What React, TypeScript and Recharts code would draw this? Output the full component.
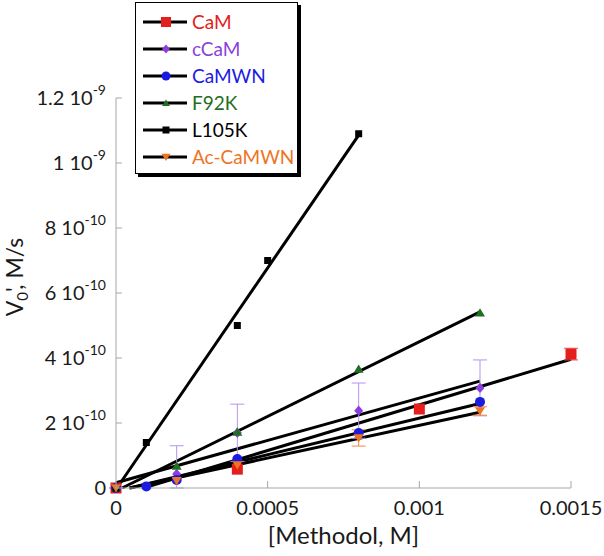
import React from 'react';
import { ComposedChart, Line, Scatter, ErrorBar, XAxis, YAxis } from 'recharts';

// axis ticks
const xTicks = [0, 0.0005, 0.001, 0.0015];
const xTickLabels = ['0', '0.0005', '0.001', '0.0015'];
const yTicks = [0, 2e-10, 4e-10, 6e-10, 8e-10, 1e-9, 1.2e-9];
const yTickBases = ['0', '2 10', '4 10', '6 10', '8 10', '1 10', '1.2 10'];
const yTickExps = ['', '-10', '-10', '-10', '-10', '-9', '-9'];

// measured points
const camX = [0, 0.0004, 0.001, 0.0015];
const camY = [0, 5.8e-11, 2.43e-10, 4.12e-10];
const camErr = [0, 0, 0, 1.8e-11];

const ccamX = [0, 0.0002, 0.0004, 0.0008, 0.0012];
const ccamY = [0, 4.3e-11, 1.7e-10, 2.38e-10, 3.08e-10];
const ccamErrLo = [0, 4.3e-11, 8.8e-11, 8.5e-11, 8.6e-11];
const ccamErrHi = [0, 8.7e-11, 8.8e-11, 8.5e-11, 8.6e-11];

const camwnX = [0, 0.0001, 0.0002, 0.0004, 0.0008, 0.0012];
const camwnY = [0, 5e-12, 2.5e-11, 8.9e-11, 1.69e-10, 2.65e-10];

const f92kX = [0, 0.0002, 0.0004, 0.0008, 0.0012];
const f92kY = [0, 6.8e-11, 1.72e-10, 3.66e-10, 5.39e-10];

const l105kX = [0, 0.0001, 0.0004, 0.0005, 0.0008];
const l105kY = [0, 1.4e-10, 5e-10, 7e-10, 1.09e-9];

const acX = [0, 0.0002, 0.0004, 0.0008, 0.0012];
const acY = [0, 2.2e-11, 7.1e-11, 1.54e-10, 2.37e-10];
const acErr = [0, 0, 0, 2.5e-11, 1.3e-11];

// linear fit lines, start / end
const camFitX = [0.00009, 0.0015];
const camFitY = [0, 3.96e-10];
const ccamFitX = [0, 0.0012];
const ccamFitY = [1.6e-11, 3.29e-10];
const camwnFitX = [0.000046, 0.0012];
const camwnFitY = [0, 2.6e-10];
const f92kFitX = [0.00002, 0.0012];
const f92kFitY = [0, 5.42e-10];
const l105kFitX = [0.000003, 0.0008];
const l105kFitY = [0, 1.086e-9];
const acFitX = [0.000044, 0.0012];
const acFitY = [0, 2.33e-10];

const AXIS = '#a6a6a6';
const TEXT = '#1a1a1a';

const pts = (xs: number[], ys: number[], errs?: (number | number[])[]) =>
  xs.map((x, i) => ({ x, y: ys[i], err: errs ? errs[i] : 0 }));

type MarkerKind = 'square' | 'diamond' | 'circle' | 'tri' | 'triDown';

function marker(kind: MarkerKind, cx: number, cy: number, s: number, color: string) {
  const h = s / 2;
  switch (kind) {
    case 'square':
      return <rect x={cx - h} y={cy - h} width={s} height={s} fill={color} />;
    case 'diamond':
      return (
        <polygon
          points={`${cx},${cy - h * 1.15} ${cx + h},${cy} ${cx},${cy + h * 1.15} ${cx - h},${cy}`}
          fill={color}
        />
      );
    case 'circle':
      return <circle cx={cx} cy={cy} r={h} fill={color} />;
    case 'tri':
      return (
        <polygon
          points={`${cx},${cy - h * 0.9} ${cx + h},${cy + h * 0.75} ${cx - h},${cy + h * 0.75}`}
          fill={color}
        />
      );
    default:
      return (
        <polygon
          points={`${cx - h},${cy - h * 0.75} ${cx + h},${cy - h * 0.75} ${cx},${cy + h * 0.9}`}
          fill={color}
        />
      );
  }
}

const series = [
  { name: 'CaM', color: '#e3201b', kind: 'square' as MarkerKind, size: 11, legendSize: 10,
    data: pts(camX, camY, camErr), fit: pts(camFitX, camFitY), errColor: '#e85050' },
  { name: 'cCaM', color: '#8a3fdc', kind: 'diamond' as MarkerKind, size: 9, legendSize: 8,
    data: pts(ccamX, ccamY, ccamX.map((_, i) => [ccamErrLo[i], ccamErrHi[i]])), fit: pts(ccamFitX, ccamFitY), errColor: '#b593ec' },
  { name: 'CaMWN', color: '#1c1ce0', kind: 'circle' as MarkerKind, size: 10, legendSize: 9,
    data: pts(camwnX, camwnY), fit: pts(camwnFitX, camwnFitY), errColor: '' },
  { name: 'F92K', color: '#1f6e22', kind: 'tri' as MarkerKind, size: 10, legendSize: 8,
    data: pts(f92kX, f92kY), fit: pts(f92kFitX, f92kFitY), errColor: '' },
  { name: 'L105K', color: '#000000', kind: 'square' as MarkerKind, size: 7, legendSize: 7,
    data: pts(l105kX, l105kY), fit: pts(l105kFitX, l105kFitY), errColor: '' },
  { name: 'Ac-CaMWN', color: '#ee7424', kind: 'triDown' as MarkerKind, size: 10, legendSize: 9,
    data: pts(acX, acY, acErr), fit: pts(acFitX, acFitY), errColor: '#f08a40' },
];

function XTick(props: any) {
  const { x, y, payload } = props;
  const i = xTicks.indexOf(payload.value);
  return (
    <g>
      <line x1={x} x2={x} y1={y} y2={y - 7} stroke={AXIS} />
      <text x={x} y={y + 27} textAnchor="middle" fontSize={20} fill={TEXT}>
        {xTickLabels[i]}
      </text>
    </g>
  );
}

function YTick(props: any) {
  const { x, y, payload } = props;
  const i = yTicks.indexOf(payload.value);
  return (
    <g>
      <line x1={x} x2={x + 6} y1={y} y2={y} stroke={AXIS} />
      <text x={x - 10} y={y + 7} textAnchor="end" fontSize={20} fill={TEXT}>
        {yTickBases[i]}
        {yTickExps[i] && (
          <tspan dy={-10} fontSize={14}>
            {yTickExps[i]}
          </tspan>
        )}
      </text>
    </g>
  );
}

function XTitle(props: any) {
  const vb = props.viewBox || { x: 116, y: 488, width: 455 };
  return (
    <text x={vb.x + vb.width / 2} y={vb.y + 56} textAnchor="middle" fontSize={24} fill={TEXT}>
      [Methodol, M]
    </text>
  );
}

function YTitle() {
  const cx = 23;
  const cy = 277;
  return (
    <text x={cx} y={cy} transform={`rotate(-90 ${cx} ${cy})`} textAnchor="middle" fontSize={23} fill={TEXT}>
      V
      <tspan dy={5} fontSize={15}>0</tspan>
      <tspan dy={-5}>', M/s</tspan>
    </text>
  );
}

function LegendBox() {
  return (
    <div
      style={{
        position: 'absolute',
        left: 135,
        top: 2,
        width: 163,
        height: 172,
        border: '1.5px solid #000',
        boxShadow: '3px 3px 0 #000',
        background: '#fff',
        boxSizing: 'border-box',
      }}
    >
      <svg width={160} height={170} style={{ position: 'absolute', left: 0, top: 0 }}>
        {series.map((s, i) => {
          const cy = 19 + i * 27;
          return (
            <g key={s.name}>
              <line x1={7} x2={51} y1={cy} y2={cy} stroke="#000" strokeWidth={3} />
              {marker(s.kind, 30, cy, s.legendSize, s.color)}
              <text x={56} y={cy + 7} fontSize={19} fill={s.color}>
                {s.name}
              </text>
            </g>
          );
        })}
      </svg>
    </div>
  );
}

export default function App() {
  return (
    <div style={{ position: 'absolute', left: 0, top: 0, width: 604, height: 556, fontFamily: 'Lato', background: '#fff' }}>
      <ComposedChart width={604} height={556} margin={{ top: 98, right: 33, left: 0, bottom: 0 }}>
        <XAxis
          type="number"
          dataKey="x"
          domain={[0, 0.0015]}
          ticks={xTicks}
          interval={0}
          height={68}
          tickSize={0}
          tickMargin={0}
          tickLine={false}
          axisLine={{ stroke: AXIS }}
          tick={<XTick />}
          label={<XTitle />}
        />
        <YAxis
          type="number"
          dataKey="y"
          domain={[0, 1.2e-9]}
          ticks={yTicks}
          interval={0}
          width={116}
          tickSize={0}
          tickMargin={0}
          tickLine={false}
          axisLine={{ stroke: AXIS }}
          tick={<YTick />}
          label={<YTitle />}
        />
        {series.map((s) => (
          <Line
            key={`fit-${s.name}`}
            data={s.fit}
            dataKey="y"
            stroke="#000"
            strokeWidth={3}
            dot={false}
            activeDot={false}
            isAnimationActive={false}
            legendType="none"
          />
        ))}
        {series.map((s) => (
          <Scatter
            key={s.name}
            name={s.name}
            data={s.data}
            dataKey="y"
            isAnimationActive={false}
            shape={(p: any) => marker(s.kind, p.cx, p.cy, s.size, s.color)}
          >
            {s.errColor && (
              <ErrorBar dataKey="err" direction="y" width={7} stroke={s.errColor} strokeWidth={1} />
            )}
          </Scatter>
        ))}
      </ComposedChart>
      <LegendBox />
    </div>
  );
}
